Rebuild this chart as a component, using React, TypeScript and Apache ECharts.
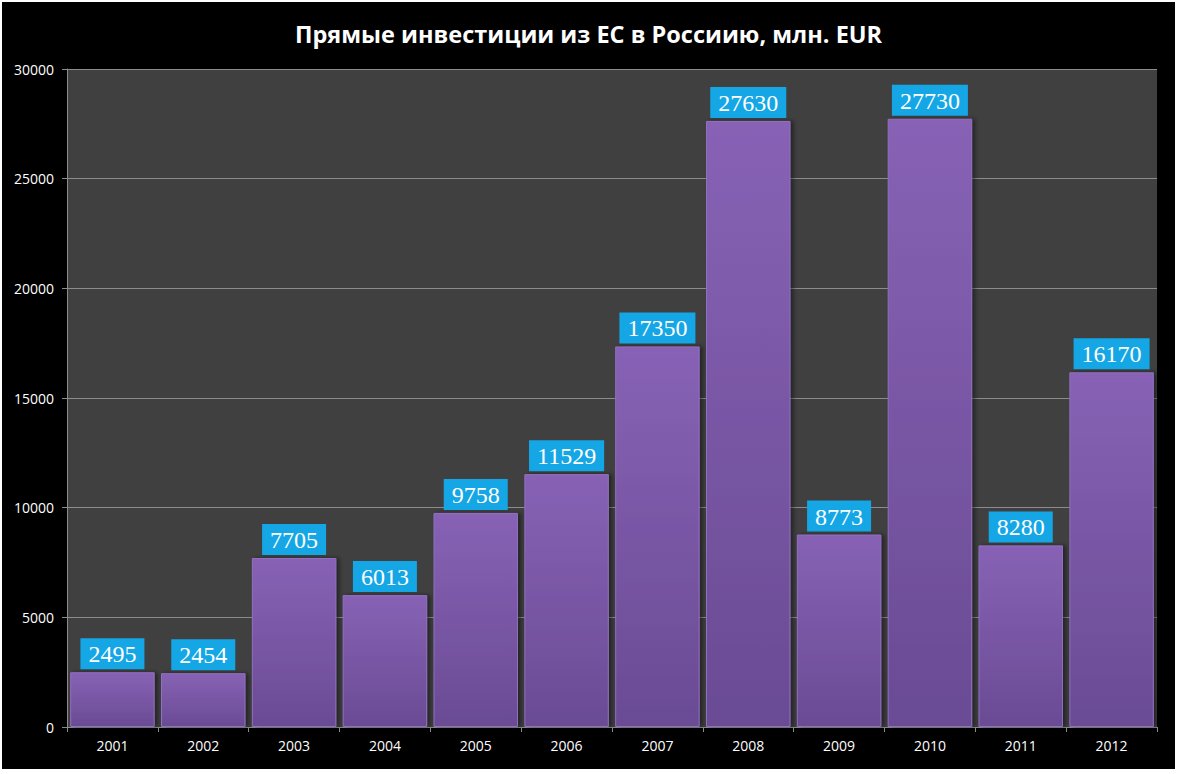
import React, { useEffect, useRef } from "react";
import * as echarts from "echarts";

const categories = ["2001", "2002", "2003", "2004", "2005", "2006", "2007", "2008", "2009", "2010", "2011", "2012"];
const values = [2495, 2454, 7705, 6013, 9758, 11529, 17350, 27630, 8773, 27730, 8280, 16170];
const titleText = "Прямые инвестиции из ЕС в Россиию, млн. EUR";

export default function App() {
  const ref = useRef<HTMLDivElement>(null);
  useEffect(() => {
    if (!ref.current) return;
    const chart = echarts.init(ref.current, null, { renderer: "svg" });
    chart.setOption({
      animation: false,
      backgroundColor: "transparent",
      title: {
        text: titleText,
        left: "center",
        top: 15,
        textStyle: { color: "#ffffff", fontFamily: "Open Sans", fontWeight: "bold", fontSize: 23.5 },
      },
      grid: {
        left: 65,
        right: 18,
        top: 67,
        bottom: 42,
        show: true,
        backgroundColor: "#404040",
        borderWidth: 0,
      },
      xAxis: {
        type: "category",
        data: categories,
        axisLine: { show: true, lineStyle: { color: "#8c8c8c", width: 1 } },
        axisTick: { show: true, length: 5, lineStyle: { color: "#8c8c8c" } },
        axisLabel: { color: "#ffffff", fontFamily: "Open Sans", fontSize: 14, margin: 11 },
      },
      yAxis: {
        type: "value",
        min: 0,
        max: 30000,
        interval: 5000,
        axisLine: { show: true, lineStyle: { color: "#8c8c8c", width: 1 } },
        axisTick: { show: true, length: 5, lineStyle: { color: "#8c8c8c" } },
        axisLabel: {
          color: "#ffffff",
          fontFamily: "Open Sans",
          fontSize: 14,
          margin: 13,
          formatter: (v: number) => String(v),
        },
        splitLine: { show: true, lineStyle: { color: "#8c8c8c", width: 1 } },
      },
      series: [
        {
          type: "bar",
          data: values,
          barCategoryGap: "7%",
          itemStyle: {
            color: {
              type: "linear",
              x: 0,
              y: 0,
              x2: 0,
              y2: 1,
              colorStops: [
                { offset: 0, color: "#8762b5" },
                { offset: 1, color: "#6a4b94" },
              ],
            },
            borderColor: "#9070c0",
            borderWidth: 1,
            shadowColor: "rgba(0,0,0,0.45)",
            shadowBlur: 4,
            shadowOffsetX: 3,
            shadowOffsetY: 0,
          },
          label: {
            show: true,
            position: "top",
            distance: 3,
            color: "#ffffff",
            fontFamily: "Liberation Serif",
            fontSize: 24,
            backgroundColor: "#15a6e5",
            padding: [4, 8, 3, 8],
          },
        },
      ],
    });
    return () => chart.dispose();
  }, []);
  return (
    <div style={{ position: "fixed", left: 0, top: 0, width: 1178, height: 774, background: "#ffffff" }}>
      <div style={{ position: "absolute", left: 2, top: 2, width: 1173, height: 767, background: "#000000" }}>
        <div ref={ref} style={{ width: 1173, height: 767 }} />
      </div>
    </div>
  );
}
